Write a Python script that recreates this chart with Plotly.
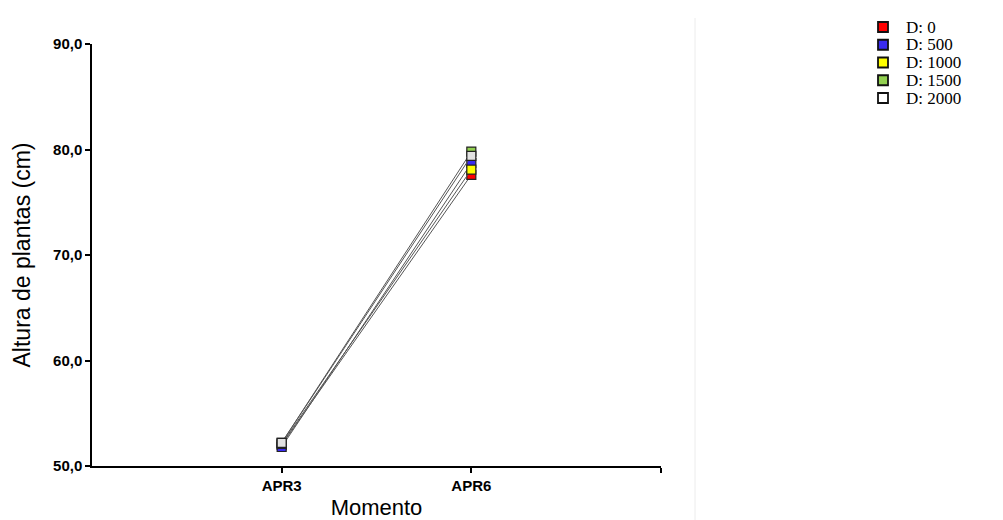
import plotly.graph_objects as go

moments = ["APR3", "APR6"]
series_names = ["D: 0", "D: 500", "D: 1000", "D: 1500", "D: 2000"]
values = {
    "D: 0":    [52.0, 77.6],
    "D: 500":  [51.8, 78.7],
    "D: 1000": [52.1, 78.1],
    "D: 1500": [52.2, 79.8],
    "D: 2000": [52.2, 79.4],
}
colors = ["#ff0000", "#3a2bf0", "#ffff00", "#92d050", "#e2e2e2"]
legend_colors = ["#ff0000", "#3a2bf0", "#ffff00", "#92d050", "#ffffff"]
y_ticks = [50, 60, 70, 80, 90]
y_ticktext = ["50,0", "60,0", "70,0", "80,0", "90,0"]

xpos = [1, 2]

W, H = 1003, 520
L, R, T, B = 92, 0, 10, 54
pw = W - L - R
ph = H - T - B
px_right = 661
py_top = 44
main_xdom = [0, (px_right - L) / pw]
main_ydom = [0, (H - B - py_top) / ph]

fig = go.Figure()
for name, col in zip(series_names, colors):
    fig.add_trace(go.Scatter(
        x=xpos, y=values[name], name=name, mode="lines+markers",
        line=dict(color="#555555", width=1),
        marker=dict(symbol="square", size=9, color=col,
                    line=dict(color="#222222", width=1.2)),
        showlegend=False,
    ))

leg_px0 = 860
leg_marker_px = 883
leg_text_px = 904
row0_px = 27
row_gap = 17.75
leg_xdom = [(leg_px0 - L) / pw, 1]
leg_width_px = W - leg_px0
leg_xval = (leg_marker_px - leg_px0) / leg_width_px
rows = list(range(len(series_names)))
r_lo = -(row0_px - T) / row_gap
r_hi = r_lo + ph / row_gap

fig.add_trace(go.Scatter(
    x=[leg_xval] * len(rows), y=rows, mode="markers", xaxis="x2", yaxis="y2",
    marker=dict(symbol="square", size=10, color=legend_colors,
                line=dict(color="#111111", width=1.8)),
    showlegend=False, hoverinfo="skip",
))

annotations = []
for i, name in zip(rows, series_names):
    annotations.append(dict(
        text=name, x=(leg_text_px - L) / pw, xref="paper", y=i, yref="y2",
        xanchor="left", yanchor="middle", showarrow=False,
        font=dict(family="Liberation Serif, Times New Roman", size=17, color="black"),
    ))

fig.update_layout(
    width=W, height=H,
    margin=dict(l=L, r=R, t=T, b=B, pad=0),
    paper_bgcolor="white", plot_bgcolor="white",
    font=dict(family="Liberation Sans, Arial", color="black"),
    showlegend=False,
    annotations=annotations,
    xaxis=dict(
        domain=main_xdom,
        range=[0, 3], tickmode="array", tickvals=[1, 2, 3],
        ticktext=["APR3", "APR6", ""],
        showgrid=False, zeroline=False, showline=True, linecolor="black",
        linewidth=1.5, ticks="outside", ticklen=5, tickwidth=1.5, tickcolor="black",
        tickfont=dict(size=15, family="Liberation Sans, Arial", weight="bold"),
        title=dict(text="Momento", font=dict(size=22), standoff=12),
    ),
    yaxis=dict(
        domain=main_ydom,
        range=[50, 90], tickmode="array", tickvals=y_ticks, ticktext=y_ticktext,
        showgrid=False, zeroline=False, showline=True, linecolor="black",
        linewidth=1.5, ticks="outside", ticklen=5, tickwidth=1.5, tickcolor="black",
        tickfont=dict(size=15, family="Liberation Sans, Arial", weight="bold"),
        title=dict(text="Altura de plantas (cm)", font=dict(size=23), standoff=16),
    ),
    xaxis2=dict(domain=leg_xdom, range=[0, 1], visible=False, fixedrange=True,
                anchor="y2"),
    yaxis2=dict(domain=[0, 1], range=[r_hi, r_lo], visible=False, fixedrange=True,
                anchor="x2"),
    shapes=[dict(
        type="line", xref="paper", yref="paper",
        x0=(695 - L) / pw, x1=(695 - L) / pw,
        y0=(H - B - 520) / ph, y1=(H - B - 18) / ph,
        line=dict(color="#ececec", width=1),
    )],
)

fig.write_html("out.html")
